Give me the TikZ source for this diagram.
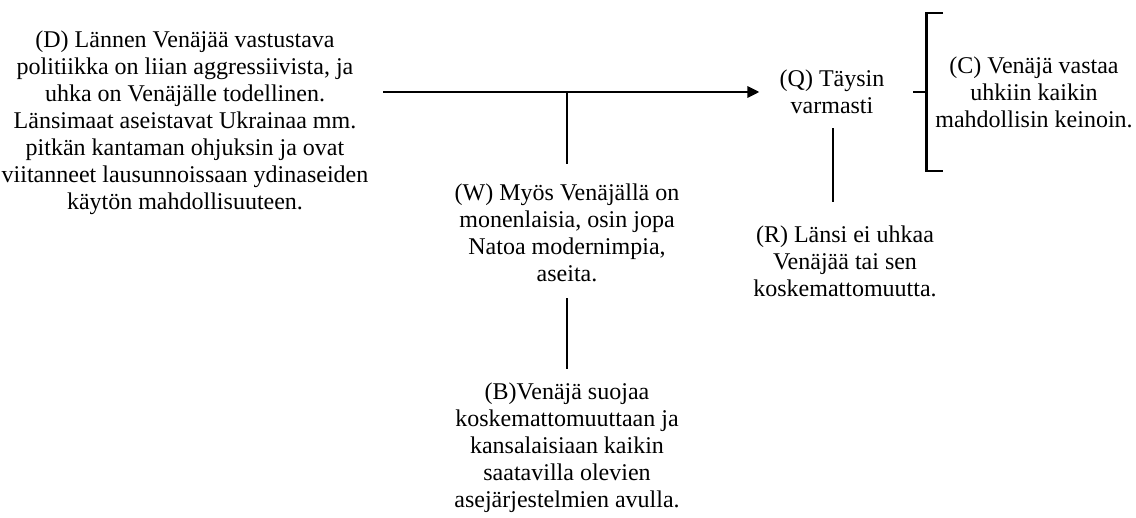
\documentclass[tikz,border=0pt]{standalone}
\usepackage{fontspec}
\setmainfont{Liberation Serif}
\usepackage{tikz}
\tikzstyle{claim}=[align=center, inner sep=9pt, font=\fontsize{24}{27}\selectfont]
\tikzstyle{line}=[line width=2.8pt]
\tikzstyle{arrow}=[line,->,>={Triangle[length=12pt,width=11pt]}]
\usetikzlibrary{arrows.meta,positioning,calc}

\begin{document}
\begin{tikzpicture}[x=1pt,y=-1pt]
\useasboundingbox (0,0) rectangle (1136,518);
\node (D) [claim] at (185,123) {(D) Lännen Venäjää vastustava\\politiikka on liian aggressiivista, ja\\uhka on Venäjälle todellinen.\\Länsimaat aseistavat Ukrainaa mm.\\pitkän kantaman ohjuksin ja ovat\\viitanneet lausunnoissaan ydinaseiden\\käytön mahdollisuuteen.};
\node (Q) [claim] at (832,92) {(Q) Täysin\\varmasti};
\node (C) [claim] at (1034,92) {(C) Venäjä vastaa\\uhkiin kaikin\\mahdollisin keinoin.};
\node (W) [claim] at (567,233) {(W) Myös Venäjällä on\\monenlaisia, osin jopa\\Natoa modernimpia,\\aseita.};
\node (B) [claim] at (567,448) {(B)Venäjä suojaa\\koskemattomuuttaan ja\\kansalaisiaan kaikin\\saatavilla olevien\\asejärjestelmien avulla.};
\node (R) [claim] at (845,261) {(R) Länsi ei uhkaa\\Venäjää tai sen\\koskemattomuutta.};
% main argument line
\draw[arrow,shorten <=6pt,shorten >=11pt] (D.east|-Q) -- (Q.west);
\draw[line,shorten >=11pt] (W.north|-Q) -- (W.north);
\draw[line,shorten <=7pt,shorten >=5pt] (W.south) -- (B.north);
\draw[line,shorten <=5pt,shorten >=14pt] (Q.south-|833,0) -- (R.north-|833,0);
% bracket in front of the claim
\draw[line] ($(C.west)+(17,-79)$) -| ($(C.west)+(0,79)$) -- ++(17,0);
\draw[line] (C.west) -- ++(-13,0);
\end{tikzpicture}
\end{document}
